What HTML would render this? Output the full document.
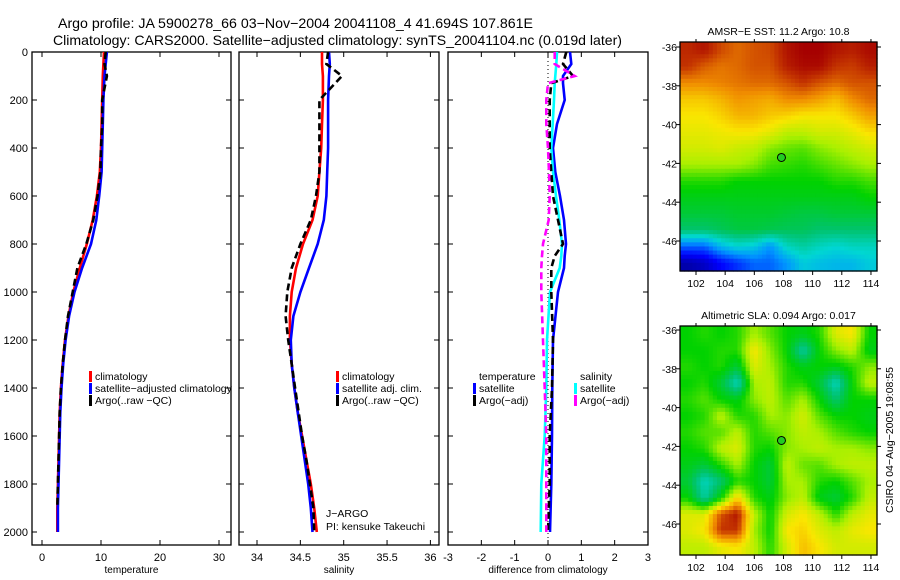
<!DOCTYPE html>
<html><head><meta charset="utf-8"><style>
body{margin:0;background:#fff;}
svg{font-family:"Liberation Sans",sans-serif;display:block}
text{fill:#000}
</style></head><body>
<svg id="fig" width="900" height="580" viewBox="0 0 900 580">
<text x="58" y="28" font-size="14" textLength="475" lengthAdjust="spacingAndGlyphs">Argo profile: JA 5900278_66 03−Nov−2004 20041108_4 41.694S 107.861E</text>
<text x="53" y="45" font-size="14" textLength="569" lengthAdjust="spacingAndGlyphs">Climatology: CARS2000. Satellite−adjusted climatology: synTS_20041104.nc (0.019d later)</text>
<g id="g"></g>
</svg>
<script>
// ---- data ----
const depths=[0,50,100,200,300,400,500,600,700,800,900,1000,1100,1200,1300,1400,1500,1600,1700,1800,1900,2000];
const climT=[10.5,10.4,10.3,10.2,10.1,10.0,9.8,9.3,8.6,7.6,6.4,5.3,4.5,3.9,3.5,3.2,3.0,2.9,2.8,2.7,2.6,2.6];
const satT=[11.0,10.8,10.6,10.4,10.3,10.2,10.1,9.7,9.2,8.3,6.8,5.5,4.6,4.0,3.6,3.3,3.1,3.0,2.9,2.8,2.7,2.7];
const argoT=[10.8,10.6,11.0,10.2,10.2,10.0,9.9,9.4,8.7,7.5,6.0,5.2,4.4,3.9,3.5,3.2,3.0,2.9,2.8,2.7,2.6,2.5];
const climS=[34.75,34.75,34.76,34.76,34.75,34.74,34.72,34.70,34.64,34.53,34.45,34.40,34.38,34.38,34.40,34.43,34.47,34.52,34.57,34.62,34.66,34.69];
const satS=[34.83,34.84,34.83,34.82,34.82,34.82,34.81,34.80,34.77,34.70,34.60,34.50,34.42,34.39,34.40,34.43,34.47,34.51,34.55,34.59,34.62,34.64];
const argoS=[34.82,34.80,34.98,34.72,34.72,34.72,34.72,34.68,34.62,34.50,34.40,34.35,34.33,34.36,34.40,34.44,34.48,34.52,34.57,34.61,34.65,34.66];
const diffDepths=[0,50,100,130,200,300,400,500,600,700,800,850,900,1000,1200,1400,1600,1800,2000];
const diffSatT=[0.66,0.7,0.45,0.45,0.5,0.27,0.15,0.22,0.36,0.48,0.54,0.5,0.48,0.3,0.15,0.13,0.12,0.1,0.06];
const diffSatS=[0.27,0.25,0.22,0.2,0.18,0.14,0.1,0.15,0.24,0.34,0.42,0.4,0.35,0.06,-0.03,-0.05,-0.1,-0.2,-0.22];
const diffArgoT=[0.55,0.45,0.75,0.1,0.05,0.05,0.05,0.1,0.15,0.3,0.45,0.2,0.1,0.1,0.15,0.12,0.05,0.05,0.0];
const diffArgoS=[0.2,0.2,0.8,0.0,-0.05,-0.05,0.0,0.03,0.05,0.02,-0.15,-0.18,-0.2,-0.2,-0.15,-0.1,-0.05,-0.05,-0.05];
const depthTicks=[0,200,400,600,800,1000,1200,1400,1600,1800,2000];
const tTicks=[0,10,20,30];
const sTicks=[34,34.5,35,35.5,36];
const dTicks=[-3,-2,-1,0,1,2,3];
const latTicks=[-36,-38,-40,-42,-44,-46];
const lonTicks=[102,104,106,108,110,112,114];
const sstGrid=[
[.96,.98,.93,.9,.92,.93,.98,1,1,.98,.97,.99],
[.95,.91,.89,.9,.92,.92,.97,.99,.99,.95,.94,.97],
[.87,.87,.88,.89,.9,.9,.92,.95,.92,.9,.92,.92],
[.81,.81,.83,.86,.85,.84,.87,.87,.85,.82,.87,.9],
[.78,.78,.8,.83,.83,.81,.8,.78,.78,.78,.81,.85],
[.76,.76,.77,.78,.78,.76,.72,.72,.74,.74,.76,.79],
[.74,.74,.75,.73,.72,.68,.66,.65,.68,.7,.72,.74],
[.7,.7,.7,.7,.68,.64,.63,.62,.64,.66,.68,.7],
[.62,.62,.62,.6,.6,.6,.6,.6,.6,.62,.62,.64],
[.58,.58,.58,.58,.58,.58,.58,.58,.58,.58,.58,.6],
[.55,.55,.55,.56,.56,.56,.55,.54,.54,.55,.55,.55],
[.5,.5,.52,.54,.54,.53,.52,.52,.5,.5,.5,.5],
[.25,.25,.35,.4,.38,.3,.42,.45,.42,.4,.42,.42],
[.05,.08,.15,.2,.25,.25,.3,.38,.36,.35,.35,.38]];
const slaGrid=[
[.6,.62,.6,.62,.7,.65,.6,.58,.62,.75,.78,.6],
[.6,.6,.62,.62,.78,.68,.6,.45,.6,.68,.72,.58],
[.62,.6,.62,.55,.75,.7,.62,.58,.6,.58,.62,.68],
[.6,.62,.55,.42,.7,.72,.62,.62,.55,.42,.6,.72],
[.62,.65,.6,.58,.68,.72,.65,.7,.6,.5,.6,.6],
[.6,.62,.72,.62,.62,.7,.68,.74,.65,.6,.6,.58],
[.62,.65,.65,.72,.62,.65,.68,.72,.7,.65,.62,.6],
[.6,.62,.72,.75,.62,.6,.68,.7,.72,.7,.7,.68],
[.58,.55,.62,.7,.6,.55,.72,.66,.65,.7,.72,.72],
[.55,.42,.5,.62,.6,.55,.7,.7,.62,.6,.65,.7],
[.6,.45,.6,.8,.62,.58,.68,.72,.58,.55,.62,.72],
[.75,.75,.92,.98,.72,.6,.74,.78,.72,.62,.72,.76],
[.75,.78,.95,.95,.7,.6,.78,.8,.75,.72,.76,.78],
[.72,.72,.76,.78,.72,.62,.74,.82,.78,.74,.74,.74]];
const floatLon=107.861, floatLat=-41.694;

// ---- drawing ----
const NS="http://www.w3.org/2000/svg";
const G=document.getElementById('g');
function mk(tag,attrs,parent){const e=document.createElementNS(NS,tag);for(const k in attrs)e.setAttribute(k,attrs[k]);(parent||G).appendChild(e);return e;}
function txt(x,y,s,size,anchor,parent){const t=mk('text',{x:x,y:y,'font-size':size,'text-anchor':anchor||'start'},parent);t.textContent=s;return t;}
const yD=d=>52+d*0.24;
const PB=545;
function panel(name,x0,x1,xs,ticks,label,fmt){
  const g=mk('g',{});
  
  
  const r=mk('rect',{x:x0,y:52,width:x1-x0,height:PB-52,fill:'#fff',stroke:'#000','stroke-width':1.3},g);
  
  
  ticks.forEach(v=>{const x=xs(v);
    mk('line',{x1:x,x2:x,y1:PB,y2:PB-5,stroke:'#000'},g);
    mk('line',{x1:x,x2:x,y1:52,y2:57,stroke:'#000'},g);
    const t=txt(x,561,fmt(v),11,'middle',g);
    
    });
  depthTicks.forEach(d=>{const y=yD(d);
    mk('line',{x1:x0,x2:x0+5,y1:y,y2:y,stroke:'#000'},g);
    mk('line',{x1:x1,x2:x1-5,y1:y,y2:y,stroke:'#000'},g);});
  const xl=txt((x0+x1)/2,573,label,10,'middle',g);
  
  
  return g;
}
function line(g,xs,ds,vs,color,dash,name){
  const p=ds.map((d,i)=>(i?'L':'M')+xs(vs[i]).toFixed(1)+','+yD(d).toFixed(1)).join('');
  const e=mk('path',{d:p,fill:'none',stroke:color,'stroke-width':2.6,'stroke-dasharray':dash||'none'},g);
  
  
}
function legend(g,x,y,items){items.forEach((it,i)=>{
  const yy=y+i*12;
  if(it[1]){const b=mk('rect',{x:x,y:yy-9,width:3,height:11,fill:it[1]},g);
    
    }
  const t=txt(x+6,yy,it[0],10.5,'start',g);
  
  });}

depthTicks.forEach(d=>{const t=txt(28,yD(d)+4,String(d),11,'end');
  
  });

const xT=v=>42+v*5.9;
const g1=panel('temperature-panel',32,231,xT,tTicks,'temperature',v=>String(v));
line(g1,xT,depths,climT,'#f00',null,'temperature-climatology-line');
line(g1,xT,depths,satT,'#00f',null,'temperature-satellite-line');
line(g1,xT,depths.slice(0,21),argoT.slice(0,21),'#000','7,4','temperature-argo-line');
legend(g1,89,380,[['climatology','#f00'],['satellite−adjusted climatology','#00f'],['Argo(..raw −QC)','#000']]);

const xS=v=>257+(v-34)*86.7;
const g2=panel('salinity-panel',239,439,xS,sTicks,'salinity',v=>String(v));
line(g2,xS,depths,climS,'#f00',null,'salinity-climatology-line');
line(g2,xS,depths,satS,'#00f',null,'salinity-satellite-line');
line(g2,xS,depths,argoS,'#000','7,4','salinity-argo-line');
legend(g2,336,380,[['climatology','#f00'],['satellite adj. clim.','#00f'],['Argo(..raw −QC)','#000']]);
const ja=txt(326,517,'J−ARGO',10.5,'start',g2);


const pi=txt(326,530,'PI: kensuke Takeuchi',10.5,'start',g2);



const xDf=v=>548+v*33.33;
const g3=panel('difference-panel',448,648,xDf,dTicks,'difference from climatology',v=>String(v));
const zl=mk('line',{x1:548,x2:548,y1:53,y2:PB,stroke:'#000','stroke-dasharray':'1,3'},g3);


line(g3,xDf,diffDepths,diffSatT,'#00f',null,'temperature-satellite-diff-line');
line(g3,xDf,diffDepths,diffSatS,'#0ff',null,'salinity-satellite-diff-line');
line(g3,xDf,diffDepths,diffArgoT,'#000','7,4','temperature-argo-diff-line');
line(g3,xDf,diffDepths,diffArgoS,'#f0f','7,4','salinity-argo-diff-line');
legend(g3,473,380,[['temperature',null],['satellite','#00f'],['Argo(−adj)','#000']]);
legend(g3,574,380,[['salinity',null],['satellite','#0ff'],['Argo(−adj)','#f0f']]);

const stops=[[0,[0,0,130]],[0.15,[0,0,255]],[0.3,[0,150,255]],[0.4,[0,215,210]],[0.5,[0,195,110]],[0.6,[0,210,0]],[0.7,[170,240,0]],[0.78,[250,230,0]],[0.87,[240,140,0]],[0.94,[200,60,0]],[1,[165,0,0]]];
function cmap(v){for(let i=1;i<stops.length;i++){if(v<=stops[i][0]){const a=stops[i-1],b=stops[i],t=(v-a[0])/(b[0]-a[0]);
  return 'rgb('+a[1].map((c,k)=>Math.round(c+(b[1][k]-c)*t)).join(',')+')';}}return 'rgb(165,0,0)';}

function map(name,top,grid,title,latY0){
  const L=680,R=877,B=top+229;
  const xLon=lon=>696+(lon-102)*14.58;
  const yLat=lat=>latY0+(-36-lat)*19.4;
  const g=mk('g',{});
  
  
  const rows=grid.length,cols=grid[0].length,cw=(R-L)/cols,ch=(B-top)/rows;
  const sub=4;
  for(let r=0;r<rows*sub;r++)for(let c=0;c<cols*sub;c++){
    const fr=Math.min(rows-1,Math.max(0,(r+0.5)/sub-0.5)),fc=Math.min(cols-1,Math.max(0,(c+0.5)/sub-0.5));
    const r0=Math.floor(fr),c0=Math.floor(fc),r1=Math.min(rows-1,r0+1),c1=Math.min(cols-1,c0+1),tr=fr-r0,tc=fc-c0;
    const v=grid[r0][c0]*(1-tr)*(1-tc)+grid[r0][c1]*(1-tr)*tc+grid[r1][c0]*tr*(1-tc)+grid[r1][c1]*tr*tc;
    const cell=mk('rect',{x:(L+c*cw/sub).toFixed(2),y:(top+r*ch/sub).toFixed(2),width:(cw/sub+0.6).toFixed(2),height:(ch/sub+0.6).toFixed(2),fill:cmap(v)},g);
    
    
  }
  mk('rect',{x:L,y:top,width:R-L,height:B-top,fill:'none',stroke:'#000','stroke-width':1.3},g);
  const t=txt((L+R)/2,top-7,title,10.5,'middle',g);
  
  
  latTicks.forEach(lat=>{const y=yLat(lat);
    mk('line',{x1:L,x2:L-4,y1:y,y2:y,stroke:'#000'},g);
    mk('line',{x1:R,x2:R+4,y1:y,y2:y,stroke:'#000'},g);
    const l=txt(L-3,y+4,String(lat),10.5,'end',g);
    
    });
  lonTicks.forEach(lon=>{const x=xLon(lon);
    mk('line',{x1:x,x2:x,y1:B,y2:B+4,stroke:'#000'},g);
    mk('line',{x1:x,x2:x,y1:top,y2:top-3,stroke:'#000'},g);
    const l=txt(x,B+16,String(lon),10.5,'middle',g);
    
    });
  const m=mk('circle',{cx:xLon(floatLon),cy:yLat(floatLat),r:4,fill:'#2c2',stroke:'#000','stroke-width':1},g);
  
  
}
map('sst-map',42,sstGrid,'AMSR−E SST: 11.2 Argo: 10.8',47);
map('sla-map',326,slaGrid,'Altimetric SLA: 0.094 Argo: 0.017',330);
const cs=txt(0,0,'CSIRO 04−Aug−2005 19:08:55',10.5,'middle');
cs.setAttribute('transform','translate(893,440) rotate(-90)');


</script>
</body></html>
